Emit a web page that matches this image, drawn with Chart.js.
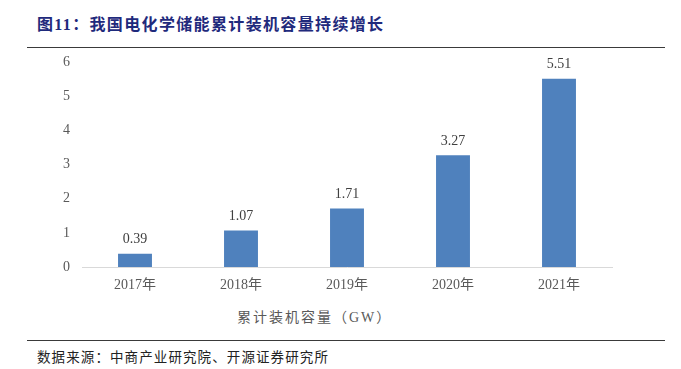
<!DOCTYPE html>
<html><head><meta charset="utf-8">
<script src="https://cdn.jsdelivr.net/npm/chart.js@4/dist/chart.umd.min.js"></script>
<style>
html,body{margin:0;padding:0;background:#fff;width:681px;height:369px;overflow:hidden;position:relative;font-family:"Liberation Serif","Noto Sans CJK SC",serif;}
#title{position:absolute;left:37px;top:11px;font-size:16px;font-weight:bold;color:#1f2a7c;letter-spacing:1.35px;white-space:nowrap;}
#tline{position:absolute;left:27px;top:47px;width:638px;height:0;border-top:1px solid #3a3a3a;}
#fline{position:absolute;left:27px;top:340px;width:638px;height:0;border-top:1px solid #3a3a3a;}
#foot{position:absolute;left:37px;top:346px;font-size:13.5px;color:#222;letter-spacing:1.1px;white-space:nowrap;}
#legend{position:absolute;left:237px;top:306px;font-size:14px;color:#595959;letter-spacing:2px;white-space:nowrap;}
#wrap{position:absolute;left:40px;top:40px;width:600px;height:257px;}
</style></head><body>
<div id="title">图11：我国电化学储能累计装机容量持续增长</div>
<div id="tline"></div>
<div id="wrap"><canvas id="c"></canvas></div>
<div id="legend">累计装机容量（GW）</div>
<div id="fline"></div>
<div id="foot">数据来源：中商产业研究院、开源证券研究所</div>
<script>
const categories = ["2017年","2018年","2019年","2020年","2021年"];
const seriesName = "累计装机容量（GW）";
const capacityGW = [0.39, 1.07, 1.71, 3.27, 5.51];
const yTicks = [0,1,2,3,4,5,6];

const labelPlugin = {
  id:'valueLabels',
  afterDatasetsDraw(chart){
    const ctx = chart.ctx;
    const meta = chart.getDatasetMeta(0);
    ctx.save();
    ctx.font = '14px "Liberation Serif", serif';
    ctx.fillStyle = '#404040';
    ctx.textAlign = 'center';
    ctx.textBaseline = 'bottom';
    meta.data.forEach((bar,i)=>{
      ctx.fillText(capacityGW[i].toFixed(2), bar.x, bar.y - 7);
    });
    ctx.restore();
  }
};

new Chart(document.getElementById('c'), {
  type:'bar',
  data:{labels:categories, datasets:[{label:seriesName, data:capacityGW, backgroundColor:'#4f81bd', barPercentage:0.64, categoryPercentage:0.5}]},
  options:{
    responsive:true, maintainAspectRatio:false, animation:false,
    layout:{padding:{top:22,right:28,left:0,bottom:0}},
    plugins:{legend:{display:false}, tooltip:{enabled:false}},
    scales:{
      x:{
        grid:{display:false, drawTicks:false},
        border:{display:true, color:'#d9d9d9', width:1},
        ticks:{color:'#595959', padding:10, font:{size:14, family:'"Liberation Serif","Noto Sans CJK SC",serif'}},
        afterFit(s){ s.height = 30; }
      },
      y:{
        min:0, max:6,
        afterBuildTicks(s){ s.ticks = yTicks.map(v=>({value:v})); },
        grid:{display:false, drawTicks:false},
        border:{display:false},
        ticks:{color:'#595959', padding:12, font:{size:14, family:'"Liberation Serif",serif'}},
        afterFit(s){ s.width = 42; }
      }
    }
  },
  plugins:[labelPlugin]
});
</script>
</body></html>
